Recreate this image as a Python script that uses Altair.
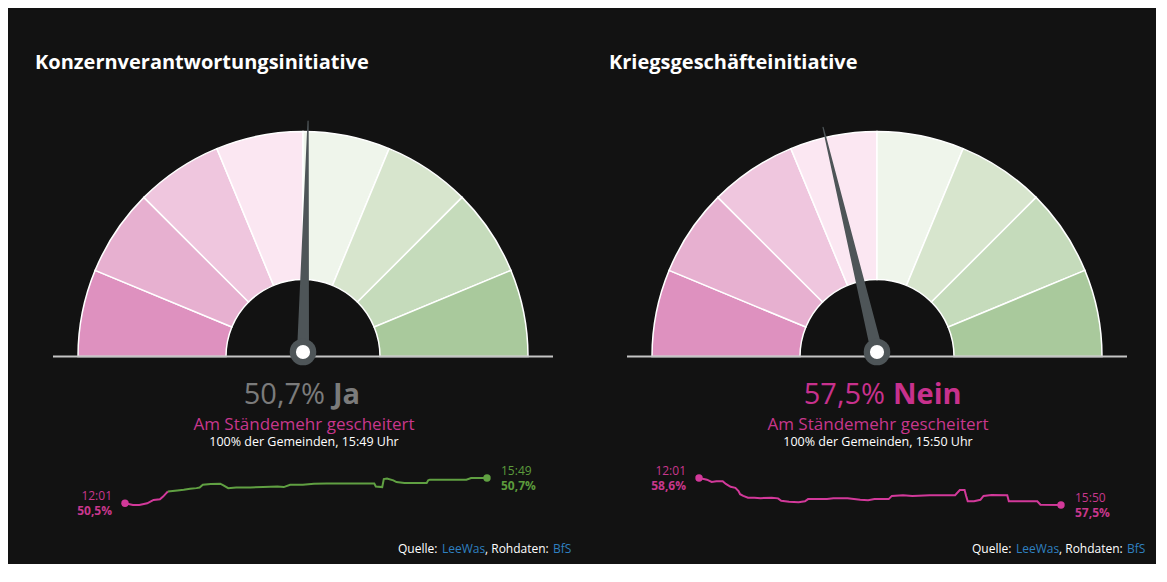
import math

import altair as alt
import pandas as pd

# Abstimmungssonntag, Hochrechnungen / Resultate
titles = ["Konzernverantwortungsinitiative", "Kriegsgeschäfteinitiative"]
ja_anteil = [50.7, 42.5]            # Endresultat Ja in %
res_zahl = ["50,7%", "57,5%"]
res_wort = ["Ja", "Nein"]
res_farbe = ["#7b7b7b", "#c8318d"]
status = ["Am Ständemehr gescheitert", "Am Ständemehr gescheitert"]
stand = ["100% der Gemeinden, 15:49 Uhr", "100% der Gemeinden, 15:50 Uhr"]

# Verlauf KVI (Ja-Anteil in %)
kvi_zeit = ["12:01", "12:06", "12:10", "12:15", "12:17", "12:19", "12:23", "12:25",
            "12:27", "12:28", "12:34", "12:38", "12:42", "12:46", "12:48", "12:50",
            "12:55", "13:01", "13:03", "13:06", "13:11", "13:20", "13:28", "13:37",
            "13:41", "13:45", "13:53", "14:00", "14:08", "14:23", "14:38", "14:39",
            "14:43", "14:44", "14:46", "14:50", "14:52", "14:57", "15:11", "15:12",
            "15:13", "15:36", "15:39", "15:49"]
kvi_wert = [49.50, 49.42, 49.42, 49.50, 49.58, 49.66, 49.69, 49.82,
            49.98, 50.06, 50.11, 50.14, 50.19, 50.22, 50.25, 50.38,
            50.41, 50.43, 50.35, 50.22, 50.25, 50.25, 50.27, 50.30,
            50.27, 50.38, 50.38, 50.43, 50.44, 50.44, 50.44, 50.30,
            50.27, 50.65, 50.67, 50.59, 50.51, 50.46, 50.46, 50.59,
            50.62, 50.62, 50.70, 50.70]

# Verlauf KGI (Nein-Anteil in %)
kgi_zeit = ["12:01", "12:04", "12:06", "12:09", "12:12", "12:16", "12:18", "12:21",
            "12:24", "12:26", "12:27", "12:29", "12:32", "12:36", "12:40", "12:47",
            "12:51", "12:53", "12:58", "13:04", "13:08", "13:10", "13:15", "13:22",
            "13:26", "13:35", "13:39", "13:43", "13:48", "13:52", "14:01", "14:03",
            "14:10", "14:16", "14:27", "14:43", "14:46", "14:49", "14:50", "14:51",
            "14:55", "14:59", "15:01", "15:06", "15:16", "15:17", "15:35", "15:37",
            "15:50"]
kgi_wert = [58.60, 58.56, 58.53, 58.44, 58.47, 58.47, 58.36, 58.24,
            58.20, 58.07, 57.94, 57.87, 57.80, 57.80, 57.78, 57.80,
            57.77, 57.67, 57.63, 57.61, 57.65, 57.74, 57.74, 57.74,
            57.77, 57.77, 57.74, 57.71, 57.69, 57.74, 57.74, 57.87,
            57.90, 57.87, 57.90, 57.90, 58.11, 58.11, 57.87, 57.65,
            57.65, 57.71, 57.87, 57.91, 57.90, 57.65, 57.65, 57.51,
            57.50]

# Tacho: 8 Felder von 0% Ja (links) bis 100% Ja (rechts)
feld_grenzen = [0, 0.125, 0.25, 0.375, 0.5, 0.625, 0.75, 0.875, 1]
feld_farben = ["#de91bf", "#e7b0d0", "#efc6de", "#fbe7f2",
               "#eff5eb", "#d7e5cd", "#c5dbbb", "#a9c99c"]

BG = "#121212"
FONT = "Open Sans"
PINK = "#d2399a"
GRUEN = "#60a042"
PINK_TXT = "#c8378d"
GRUEN_TXT = "#5c9b3c"
NADEL = "#4e5558"
BLAU = "#2f80c0"

W, H = 574, 556
CX, CY = 295, 348.5     # Mittelpunkt Tacho
PY = 344                # Drehpunkt Nadel


def text(s, x, y, size=13, color="white", weight="normal", align="left", baseline="alphabetic"):
    return alt.Chart(pd.DataFrame({"s": [s]})).mark_text(
        align=align, baseline=baseline, fontSize=size, fontWeight=weight,
        color=color, font=FONT
    ).encode(x=alt.value(x), y=alt.value(y), text="s:N")


def farbe(v, seite, txt=False):
    ja_vorne = v >= 50 if seite == "ja" else v < 50
    if txt:
        return GRUEN_TXT if ja_vorne else PINK_TXT
    return GRUEN if ja_vorne else PINK


def verlauf(zeit, wert, seite):
    # Linie in Abschnitte je nach führender Seite aufteilen
    rows = []
    run, prev = 0, None
    for z, v in zip(zeit, wert):
        c = farbe(v, seite)
        if prev is not None and c != prev:
            rows.append((z, v, prev, run))
            run += 1
        rows.append((z, v, c, run))
        prev = c
    df = pd.DataFrame(rows, columns=["zeit", "v", "c", "run"])
    df["t"] = pd.to_datetime("2020-11-29 " + df["zeit"])

    enden = pd.DataFrame({"zeit": [zeit[0], zeit[-1]], "v": [wert[0], wert[-1]]})
    enden["t"] = pd.to_datetime("2020-11-29 " + enden["zeit"])
    enden["c"] = [farbe(v, seite) for v in enden["v"]]
    enden["ct"] = [farbe(v, seite, True) for v in enden["v"]]
    enden["lbl"] = [f"{max(v, 100 - v):.1f}".replace(".", ",") + "%" for v in enden["v"]]

    xs = alt.X("t:T", axis=None, scale=alt.Scale(range=[117, 479], nice=False))
    ys = alt.Y("v:Q", axis=None, scale=alt.Scale(zero=False, nice=False, range=[497, 470]))

    line = alt.Chart(df).mark_line(strokeWidth=2).encode(
        x=xs, y=ys, color=alt.Color("c:N", scale=None), detail="run:N"
    )
    dots = alt.Chart(enden).mark_circle(size=55, opacity=1).encode(
        x=xs, y=ys, color=alt.Color("c:N", scale=None)
    )
    start = alt.Chart(enden.iloc[[0]])
    ende = alt.Chart(enden.iloc[[1]])
    labels = []
    for base, align, dx in [(start, "right", -13), (ende, "left", 14)]:
        labels.append(base.mark_text(align=align, baseline="middle", dx=dx, dy=-7.5,
                                     fontSize=12, font=FONT).encode(
            x=xs, y=ys, text="zeit:N", color=alt.Color("ct:N", scale=None)))
        labels.append(base.mark_text(align=align, baseline="middle", dx=dx, dy=7.5,
                                     fontSize=12, font=FONT, fontWeight="bold").encode(
            x=xs, y=ys, text="lbl:N", color=alt.Color("ct:N", scale=None)))
    return alt.layer(line, dots, *labels)


def tacho(i, zeit, wert, seite, zahl_rechts, wort_links):
    felder = pd.DataFrame({"von": feld_grenzen[:-1], "bis": feld_grenzen[1:],
                           "farbe": feld_farben})
    arcs = alt.Chart(felder).mark_arc(
        radius=225, radius2=77, stroke="white", strokeWidth=1.5
    ).encode(
        theta=alt.Theta("von:Q", scale=alt.Scale(domain=[0, 1],
                                                 range=[1.5 * math.pi, 2.5 * math.pi])),
        theta2="bis:Q",
        color=alt.Color("farbe:N", scale=None),
        x=alt.value(CX), y=alt.value(CY),
    )
    grund = alt.Chart(pd.DataFrame({"k": [0]})).mark_rule(
        color="#c4c4c4", strokeWidth=2
    ).encode(x=alt.value(45), x2=alt.value(545), y=alt.value(CY))

    nadel = alt.Chart(pd.DataFrame({"r": [0, 231], "w": [12, 1.2]})).transform_calculate(
        a=f"({ja_anteil[i]} / 100 - 0.5) * PI",
        px=f"{CX} + datum.r * sin(datum.a)",
        py=f"{PY} - datum.r * cos(datum.a)",
    ).mark_trail(color=NADEL).encode(
        x=alt.X("px:Q", scale=None), y=alt.Y("py:Q", scale=None),
        size=alt.Size("w:Q", scale=None),
    )
    nabe = alt.Chart(pd.DataFrame({"k": [0]})).mark_circle(
        size=707, color=NADEL, opacity=1).encode(x=alt.value(CX), y=alt.value(PY))
    nabe_innen = alt.Chart(pd.DataFrame({"k": [0]})).mark_circle(
        size=200, color="white", opacity=1).encode(x=alt.value(CX), y=alt.value(PY))

    texte = [
        text(titles[i], 27, 61, size=20, weight="bold"),
        text(res_zahl[i], zahl_rechts, 396, size=29, color=res_farbe[i], align="right"),
        text(res_wort[i], wort_links, 396, size=29, color=res_farbe[i], weight="bold"),
        text(status[i], CX + 1, 422, size=17, color=PINK_TXT, align="center"),
        text(stand[i], CX + 1, 438, size=12.5, align="center"),
        text("Quelle:", 390, 545, size=12),
        text("LeeWas", 434, 545, size=12, color=BLAU),
        text(", Rohdaten:", 477, 545, size=12),
        text("BfS", 545, 545, size=12, color=BLAU),
    ]
    return alt.layer(
        arcs, grund, nadel, nabe, nabe_innen, *texte, verlauf(zeit, wert, seite)
    ).properties(width=W, height=H)


chart = alt.hconcat(
    tacho(0, kvi_zeit, kvi_wert, "ja", CX + 22, CX + 30),
    tacho(1, kgi_zeit, kgi_wert, "nein", CX + 8, CX + 16),
    spacing=0,
).properties(
    padding=0, background=BG
).configure_view(stroke=None)

chart.save("out.html", embed_options={"renderer": "svg", "actions": False})
